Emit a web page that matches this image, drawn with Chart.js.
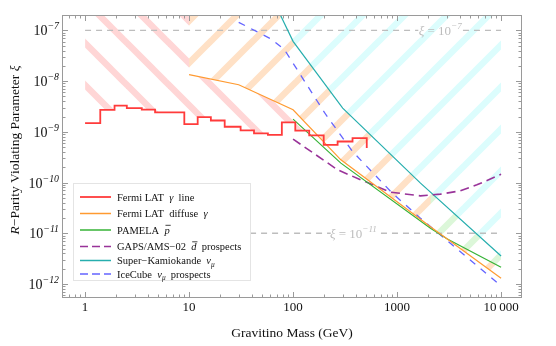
<!DOCTYPE html>
<html>
<head>
<meta charset="utf-8">
<script src="https://cdn.jsdelivr.net/npm/chart.js@4.4.1/dist/chart.umd.min.js"></script>
<style>
  html, body { margin: 0; padding: 0; background: #fff; }
  #wrap { width: 556px; height: 346px; }
</style>
</head>
<body>
<div id="wrap"><canvas id="gravitinoChart" width="556" height="346"></canvas></div>
<script>
// values: gravitino mass in GeV, R-parity violating parameter xi
const fermiLineMass = [1.0, 1.40, 1.92, 2.52, 3.51, 4.71, 9.0, 12.1, 16.2, 22.0, 31.3, 42.1, 57.3, 78.0, 105, 143, 197, 268, 373, 511];
const fermiLineXi = [1.49e-9, 2.72e-9, 3.27e-9, 2.94e-9, 2.75e-9, 2.41e-9, 1.42e-9, 1.94e-9, 1.67e-9, 1.26e-9, 1.07e-9, 9.35e-10, 8.74e-10, 1.54e-9, 1.06e-9, 8.54e-10, 5.54e-10, 6.44e-10, 7.52e-10, 4.77e-10];

const fermiDiffuseMass = [10, 30, 100, 288, 2093, 10000];
const fermiDiffuseXi = [1.34e-8, 8.48e-9, 2.72e-9, 2.80e-10, 1.35e-11, 1.30e-12];

const pamelaMass = [100, 288, 2093, 3043, 10000];
const pamelaXi = [1.78e-9, 2.41e-10, 1.26e-11, 7.73e-12, 2.14e-12];

const gapsMass = [100, 268, 448, 867, 1679, 2608, 4053, 5852, 10000];
const gapsXi = [7.18e-10, 1.78e-10, 1.13e-10, 6.46e-11, 5.46e-11, 5.90e-11, 6.85e-11, 9.0e-11, 1.45e-10];

const superKMass = [70, 100, 300, 1679, 10000];
const superKXi = [2.77e-7, 6.07e-8, 2.94e-9, 9.72e-11, 3.57e-12];

const iceCubeMass = [30, 61.6, 82.6, 207, 373, 900, 1679, 10000];
const iceCubeXi = [1.44e-7, 6.76e-8, 4.16e-8, 2.17e-9, 4.09e-10, 6.17e-11, 1.98e-11, 9.1e-13];

// where PAMELA becomes the strongest hatched bound
const pamelaHatchFrom = 2000;

// reference levels xi = 1e-7 and 1e-11, with the gap left for their labels
const xiRefLevels = [1e-7, 1e-11];
const xiRefExponents = ["\u22127", "\u221211"];
const xiRefSpan = [1, 10000];
const xiRefGap = [[1600, 4300], [230, 700]];
const xiRefLabelMass = [2600, 380];

const xTickValues = [1, 10, 100, 1000, 10000];
const xTickLabels = ["1", "10", "100", "1000", "10\u2009000"];
const yTickExponents = [-7, -8, -9, -10, -11, -12];

const seriesLabels = [
  [["Fermi LAT  "], ["\u03b3", "i"], ["  line"]],
  [["Fermi LAT  diffuse  "], ["\u03b3", "i"]],
  [["PAMELA  "], ["p", "ibar"]],
  [["GAPS/AMS\u221202  "], ["d", "ibar"], ["  prospects"]],
  [["Super\u2212Kamiokande  "], ["\u03bd", "i"], ["\u03bc", "sub"]],
  [["IceCube  "], ["\u03bd", "i"], ["\u03bc", "sub"], ["  prospects"]]
];

const SERIF = '"Liberation Serif", "DejaVu Serif", serif';
const pts = (xs, ys) => xs.map((x, i) => ({ x: x, y: ys[i] }));

function hatch(color, dir) {
  const s = 42;
  const c = document.createElement("canvas");
  c.width = c.height = s;
  const g = c.getContext("2d");
  g.fillStyle = "#fff";
  g.fillRect(0, 0, s, s);
  g.strokeStyle = color;
  g.lineWidth = 6.5;
  for (let n = -1; n <= 2; n++) {
    g.beginPath();
    if (dir > 0) { g.moveTo(-s, n * s + s); g.lineTo(n * s + s, -s); }
    else { g.moveTo(-s, n * s - s); g.lineTo(2 * s, n * s + 2 * s); }
    g.stroke();
  }
  return g.createPattern(c, "repeat");
}

function drawRich(ctx, segs, x, y, size, measureOnly) {
  let cx = x;
  for (const [t, st = ""] of segs) {
    const small = st === "sub" || st === "sup";
    const fs = small ? size * 0.7 : size;
    const it = st.includes("i") || small;
    ctx.font = (it ? "italic " : "") + fs + "px " + SERIF;
    const w = ctx.measureText(t).width;
    if (!measureOnly) {
      const dy = st === "sub" ? size * 0.28 : st === "sup" ? -size * 0.42 : 0;
      ctx.fillText(t, cx, y + dy);
      if (st.includes("bar")) {
        ctx.save();
        ctx.lineWidth = 0.8;
        ctx.strokeStyle = ctx.fillStyle;
        ctx.beginPath();
        ctx.moveTo(cx + 1, y - size * 0.78);
        ctx.lineTo(cx + w + 1, y - size * 0.78);
        ctx.stroke();
        ctx.restore();
      }
    }
    cx += w;
  }
  return cx - x;
}

const lineStyles = [
  { color: "#ff3b3b", width: 1.8, dash: [] },
  { color: "#ff9a30", width: 1.2, dash: [] },
  { color: "#36b336", width: 1.2, dash: [] },
  { color: "#993399", width: 1.6, dash: [9, 5] },
  { color: "#26aeae", width: 1.2, dash: [] },
  { color: "#6464ff", width: 1.3, dash: [7, 7] }
];

const seriesData = [
  pts(fermiLineMass, fermiLineXi),
  pts(fermiDiffuseMass, fermiDiffuseXi),
  pts(pamelaMass, pamelaXi),
  pts(gapsMass, gapsXi),
  pts(superKMass, superKXi),
  pts(iceCubeMass, iceCubeXi)
];

const datasets = seriesData.map((d, i) => ({
  data: d,
  borderColor: lineStyles[i].color,
  borderWidth: lineStyles[i].width,
  borderDash: lineStyles[i].dash,
  stepped: i === 0,
  fill: false,
  pointRadius: 0,
  order: 1
}));

// hatched exclusion regions, painted back to front
const hatchFill = (data, color, dir, order, stepped) => ({
  data: data,
  borderColor: "rgba(0,0,0,0)",
  borderWidth: 0,
  backgroundColor: hatch(color, dir),
  fill: "end",
  stepped: !!stepped,
  pointRadius: 0,
  order: order
});
datasets.push(hatchFill(seriesData[0], "#ffd6d6", -1, 10, true));
datasets.push(hatchFill(seriesData[1], "#ffe1c6", 1, 9));
datasets.push(hatchFill(seriesData[2].filter(p => p.x >= pamelaHatchFrom), "#dcf7d9", 1, 8));
datasets.push(hatchFill(seriesData[4], "#dcfdfd", 1, 7));

xiRefLevels.forEach((lv, i) => {
  datasets.push({
    data: [
      { x: xiRefSpan[0], y: lv }, { x: xiRefGap[i][0], y: lv },
      { x: xiRefLabelMass[i], y: null },
      { x: xiRefGap[i][1], y: lv }, { x: xiRefSpan[1], y: lv }
    ],
    borderColor: "#bdbdbd",
    borderWidth: 1.3,
    borderDash: [6, 5],
    pointRadius: 0,
    fill: false,
    order: 5
  });
});

const framePlugin = {
  id: "frame",
  afterDraw(chart) {
    const ctx = chart.ctx;
    const { left, right, top, bottom } = chart.chartArea;
    const xs = chart.scales.x, ys = chart.scales.y;
    ctx.save();
    ctx.strokeStyle = "#9a9a9a";
    ctx.lineWidth = 1;
    ctx.strokeRect(left + 0.5, top + 0.5, right - left - 1, bottom - top - 1);
    ctx.beginPath();
    for (let d = -1; d <= 4; d++) {
      for (let m = 1; m <= 9; m++) {
        const v = m * Math.pow(10, d);
        if (v < xs.min || v > xs.max) continue;
        const px = Math.round(xs.getPixelForValue(v)) + 0.5;
        const len = m === 1 ? 6 : 3.5;
        ctx.moveTo(px, bottom); ctx.lineTo(px, bottom - len);
        ctx.moveTo(px, top); ctx.lineTo(px, top + len);
      }
    }
    for (let d = -13; d <= -7; d++) {
      for (let m = 1; m <= 9; m++) {
        const v = m * Math.pow(10, d);
        if (v < ys.min || v > ys.max) continue;
        const py = Math.round(ys.getPixelForValue(v)) + 0.5;
        const len = m === 1 ? 6 : 3.5;
        ctx.moveTo(left, py); ctx.lineTo(left + len, py);
        ctx.moveTo(right, py); ctx.lineTo(right - len, py);
      }
    }
    ctx.stroke();

    ctx.fillStyle = "#111";
    ctx.textBaseline = "alphabetic";
    ctx.font = "13px " + SERIF;
    ctx.textAlign = "center";
    xTickValues.forEach((v, i) => {
      ctx.fillText(xTickLabels[i], xs.getPixelForValue(v), 311);
    });
    ctx.textAlign = "left";
    yTickExponents.forEach(e => {
      const py = ys.getPixelForValue(Math.pow(10, e));
      const segs = [["10"], ["\u2212" + (-e), "sup"]];
      const w = drawRich(ctx, segs, 0, 0, 14, true);
      drawRich(ctx, segs, 59 - w, py + 5, 14);
    });

    const xt = [["Gravitino Mass (GeV)"]];
    const wx = drawRich(ctx, xt, 0, 0, 13.5, true);
    drawRich(ctx, xt, (left + right) / 2 - wx / 2, 337, 13.5);

    const yt = [["R", "i"], ["\u2212Parity Violating Parameter "], ["\u03be", "i"]];
    ctx.translate(19, 150);
    ctx.rotate(-Math.PI / 2);
    const wy = drawRich(ctx, yt, 0, 0, 13.5, true);
    drawRich(ctx, yt, -wy / 2, 0, 13.5);
    ctx.restore();
  }
};

const labelPlugin = {
  id: "labels",
  afterDatasetsDraw(chart) {
    const ctx = chart.ctx;
    const xs = chart.scales.x, ys = chart.scales.y;
    ctx.save();
    ctx.fillStyle = "#bdbdbd";
    xiRefLevels.forEach((lv, i) => {
      const segs = [["\u03be", "i"], [" = 10"], [xiRefExponents[i], "sup"]];
      const w = drawRich(ctx, segs, 0, 0, 13, true);
      drawRich(ctx, segs, xs.getPixelForValue(xiRefLabelMass[i]) - w / 2, ys.getPixelForValue(lv) + 4.5, 13);
    });

    // legend box
    ctx.fillStyle = "#fff";
    ctx.fillRect(73.5, 183.5, 177, 97);
    ctx.strokeStyle = "#e4e4e4";
    ctx.lineWidth = 1;
    ctx.strokeRect(73.5, 183.5, 177, 97);
    const rowY = [197, 213.5, 230, 246.5, 260.5, 274];
    seriesLabels.forEach((segs, i) => {
      const st = lineStyles[i];
      ctx.strokeStyle = st.color;
      ctx.lineWidth = Math.max(st.width, 1.5);
      ctx.setLineDash(st.dash.length ? [8, 4] : []);
      ctx.beginPath();
      ctx.moveTo(80, rowY[i]);
      ctx.lineTo(111, rowY[i]);
      ctx.stroke();
      ctx.setLineDash([]);
      ctx.fillStyle = "#111";
      drawRich(ctx, segs, 117, rowY[i] + 3.5, 10.5);
    });
    ctx.restore();
  }
};

new Chart(document.getElementById("gravitinoChart"), {
  type: "line",
  data: { datasets: datasets },
  options: {
    responsive: false,
    animation: false,
    events: [],
    layout: { padding: { left: 62, right: 34, top: 15, bottom: 48 } },
    scales: {
      x: { type: "logarithmic", min: 0.63, max: 15890, display: false },
      y: { type: "logarithmic", min: 5.29e-13, max: 2.01e-7, display: false }
    },
    elements: { line: { tension: 0 } },
    plugins: { legend: { display: false }, tooltip: { enabled: false } }
  },
  plugins: [labelPlugin, framePlugin]
});
</script>
</body>
</html>
